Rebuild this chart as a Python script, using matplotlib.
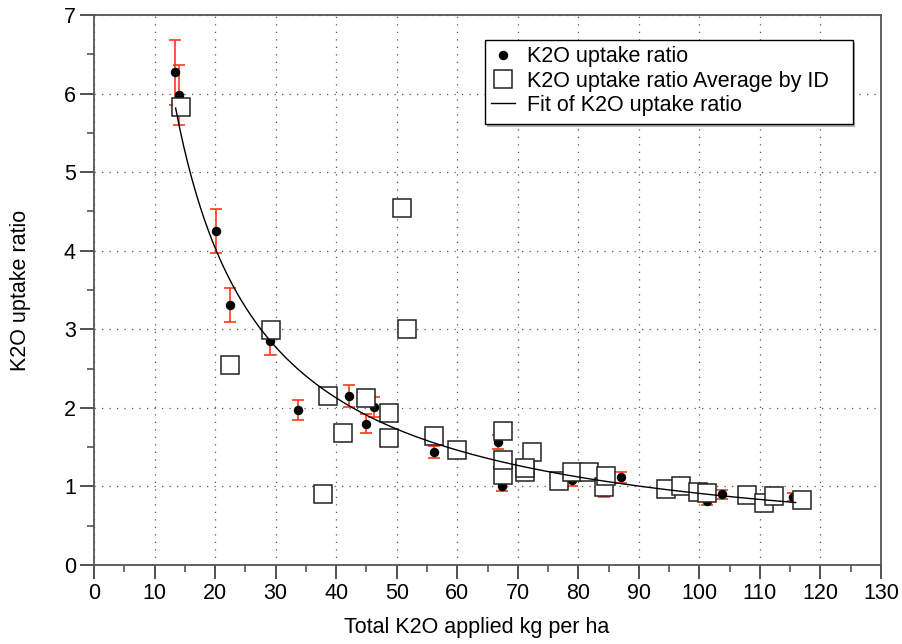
import matplotlib
matplotlib.use("Agg")
import matplotlib.pyplot as plt
from matplotlib.patches import Rectangle
from matplotlib.ticker import MultipleLocator
import numpy as np

plt.rcParams["font.family"] = ["Liberation Sans", "DejaVu Sans"]

# ── data ─────────────────────────────────────────────────────────────
# individual observations (with standard error)
obs_x = [13.4, 14.1, 20.15, 22.46, 29.07, 33.75, 42.1, 44.9, 46.2, 56.2,
         66.8, 67.4, 79.0, 84.2, 87.05, 101.2, 103.7, 115.4]
obs_y = [6.27, 5.98, 4.25, 3.31, 2.85, 1.97, 2.15, 1.80, 2.01, 1.44,
         1.57, 1.01, 1.08, 0.94, 1.12, 0.815, 0.90, 0.87]
obs_err = [0.41, 0.38, 0.28, 0.22, 0.18, 0.13, 0.14, 0.12, 0.13, 0.08,
           0.09, 0.07, 0.07, 0.07, 0.07, 0.055, 0.06, 0.05]

# averages by ID
avg_x = [14.3, 22.4, 29.2, 37.75, 38.7, 41.2, 45.0, 48.65, 48.65, 50.95,
         51.7, 56.2, 59.9, 67.5, 67.5, 67.5, 72.4, 71.2, 71.2, 76.8,
         78.9, 81.8, 84.3, 84.65, 94.45, 97.0, 99.85, 101.3, 107.9, 110.6,
         112.4, 116.9]
avg_y = [5.83, 2.55, 2.99, 0.91, 2.15, 1.68, 2.13, 1.94, 1.62, 4.54,
         3.00, 1.645, 1.47, 1.70, 1.14, 1.34, 1.44, 1.18, 1.23, 1.07,
         1.18, 1.18, 0.99, 1.13, 0.97, 1.01, 0.935, 0.915, 0.89, 0.795,
         0.88, 0.83]

# power-law fit y = a * x^b
fit_a = 64.5
fit_b = -0.925
fit_xmin, fit_xmax = 13.48, 115.9

FS = 15.5

# ── plot ─────────────────────────────────────────────────────────────
fig = plt.figure(figsize=(9.03, 6.44), dpi=100, facecolor="white")
ax = fig.add_axes([94 / 903, 1 - 565 / 644, 787 / 903, 550 / 644])

ax.errorbar(obs_x, obs_y, yerr=obs_err, fmt="none", ecolor="#ff3a1a",
            elinewidth=1.2, capsize=4, capthick=1.2, zorder=2)
ax.plot(obs_x, obs_y, "o", color="black", markersize=5.8, zorder=3,
        label="K2O uptake ratio")
ax.plot(avg_x, avg_y, "s", markerfacecolor="white", markeredgecolor="#222222",
        markeredgewidth=1.1, markersize=13, linestyle="none", zorder=4,
        label="K2O uptake ratio Average by ID")

fx = np.linspace(fit_xmin, fit_xmax, 300)
ax.plot(fx, fit_a * fx ** fit_b, color="black", linewidth=1.0, zorder=5,
        label="Fit of K2O uptake ratio")

ax.set_xlim(0, 130)
ax.set_ylim(0, 7)
ax.xaxis.set_major_locator(MultipleLocator(10))
ax.xaxis.set_minor_locator(MultipleLocator(5))
ax.yaxis.set_major_locator(MultipleLocator(1))
ax.yaxis.set_minor_locator(MultipleLocator(0.5))

ax.grid(which="major", linestyle=(0, (1, 5)), color="#555555", linewidth=0.9)
ax.set_axisbelow(True)

for sp in ax.spines.values():
    sp.set_color("#555555")
    sp.set_linewidth(1.3)
ax.tick_params(which="major", direction="out", length=10, width=1.2,
               color="#333333", labelsize=FS, pad=3)
ax.tick_params(which="minor", direction="out", length=5, width=1.2,
               color="#555555")

ax.set_xlabel("Total K2O applied kg per ha", fontsize=FS)
ax.set_ylabel("K2O uptake ratio", fontsize=FS)
ax.xaxis.set_label_coords(0.4866, -0.0945)
ax.yaxis.set_label_coords(-0.080, 0.5)

# legend box drawn by hand (wider than the auto frame), with a soft shadow
box_x0, box_x1 = 0.4968, 0.9644
box_y0, box_y1 = 0.8018, 0.9545
sx, sy = 2.5 / 787, 2.5 / 550
ax.add_patch(Rectangle((box_x0 + sx, box_y0 - sy), box_x1 - box_x0, box_y1 - box_y0,
                       transform=ax.transAxes, facecolor="#b0b0b0",
                       edgecolor="none", zorder=6))
ax.add_patch(Rectangle((box_x0, box_y0), box_x1 - box_x0, box_y1 - box_y0,
                       transform=ax.transAxes, facecolor="white",
                       edgecolor="black", linewidth=1.0, zorder=7))

leg = ax.legend(loc="upper left", bbox_to_anchor=(box_x0, box_y1),
                fontsize=FS, frameon=False, borderpad=0.3, labelspacing=0.15,
                handlelength=1.1, handletextpad=0.55, borderaxespad=0)
leg.set_zorder(8)

fig.savefig("out.png", dpi=100, facecolor="white")
